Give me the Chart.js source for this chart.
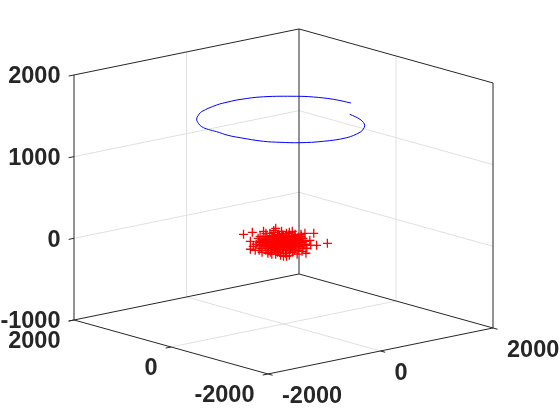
<!DOCTYPE html>
<html>
<head>
<meta charset="utf-8">
<style>html,body{margin:0;padding:0;background:#fff}canvas{display:block}</style>
<script src="https://cdn.jsdelivr.net/npm/chart.js@4"></script>
</head>
<body>
<canvas id="c" width="560" height="420"></canvas>
<script>
const uTicks = [-2000, 0, 2000];
const vTicks = [-2000, 0, 2000];
const zTicks = [-1000, 0, 1000, 2000];
const uLabels = ['-2000', '0', '2000'];
const vLabels = ['-2000', '0', '2000'];
const zLabels = ['-1000', '0', '1000', '2000'];

const helixU = [881,848,802,720,615,479,324,-11,-384,-674,-864,-999,-1105,-1140,-1123,-1126,-1092,-1002,-860,-694,-536,-140,87,302,640,1001,1145,1265,1310];
const helixV = [-343,-500,-647,-814,-961,-1090,-1202,-1316,-1266,-1122,-930,-742,-385,-177,75,241,420,594,792,947,1064,1215,1245,1247,1159,888,714,441,128];
const helixZ = [1500,1500,1500,1500,1500,1500,1500,1500,1500,1500,1500,1500,1500,1500,1500,1500,1500,1500,1500,1500,1500,1500,1500,1500,1500,1500,1500,1500,1500];

const crossU = [
-410,-320,-205,-100,-80,-340,-260,-340,-290,-310,310,220,340,450,270,230,240,170,0,-250,-220,-160,-80,60,140,190,-180,-50,60,120,180,280,210,-280,-240,
-170,-120,-90,-40,-10,30,80,110,150,
-190,-150,-110,-70,-30,10,50,90,130,
-200,-160,-120,-80,-40,0,40,80,120,160,
-180,-140,-100,-60,-20,20,60,100,140,190,
-210,-170,-130,-90,-50,-10,30,70,110,150,
-190,-150,-110,-70,-30,10,50,90,130,170,
-160,-120,-80,-40,0,40,80,120,
-130,-90,-50,-10,30,70,110,
-240,-220,-250,-240,-230,-180,200,220,230,200,180,-140,-100,-20,30,90,-130,-60,20,90,150,-30,30,-120,110,-60,0,50,-80,0,80,-120,-40,40,120,-80,0,80,-20,30];
const crossV = [
349,272,174,85,68,289,221,289,247,264,-264,-187,-289,-383,-230,-196,-204,-145,0,212,187,136,68,-51,-119,-162,153,42,-51,-102,-153,-238,-179,238,204,
145,102,77,34,9,-26,-68,-94,-128,
162,128,94,60,26,-9,-43,-77,-111,
170,136,102,68,34,0,-34,-68,-102,-136,
153,119,85,51,17,-17,-51,-85,-119,-162,
179,145,111,77,43,9,-26,-60,-94,-128,
162,128,94,60,26,-9,-43,-77,-111,-145,
136,102,68,34,0,-34,-68,-102,
111,77,43,9,-26,-60,-94,
204,187,212,204,196,153,-170,-187,-196,-170,-153,119,85,17,-26,-77,111,51,-17,-77,-128,26,-26,102,-94,51,0,-43,68,0,-68,102,34,-34,-102,68,0,-68,17,-26];
const crossZ = [
98,122,134,146,171,12,49,-85,-98,-49,110,110,-37,-12,24,-134,-73,24,-171,-98,-122,-134,-146,-159,-146,-110,110,98,122,98,73,-37,-37,-24,12,
68,80,62,75,90,70,58,82,66,
49,38,55,44,60,40,52,35,47,
24,30,15,28,20,33,18,26,12,30,
0,8,-10,5,-6,12,-4,-12,6,-2,
-24,-18,-30,-15,-28,-20,-34,-16,-26,-22,
-49,-42,-56,-46,-38,-52,-44,-58,-40,-50,
-73,-66,-80,-70,-84,-62,-76,-68,
-98,-90,-106,-94,-102,-88,-96,
73,37,0,-37,-73,-98,49,12,-24,-73,98,110,122,134,110,134,-122,-122,-134,-122,-98,-159,-171,-146,73,85,85,85,37,37,37,-12,-12,-12,-12,-61,-61,-61,61,12];

const uEdge = [-2000, 2000];
const vEdge = [-2000, 2000];
const zEdge = [-1000, 2000];

function project(u, v, z) {
  return {
    x: 283.5 + u / 2000 * 112.5 - v / 2000 * 97,
    y: 242.3 - u / 2000 * 23 - v / 2000 * 27 - z * 0.08167
  };
}
function segments(list) {
  const out = [];
  list.forEach(s => {
    out.push(project(s[0], s[1], s[2]), project(s[3], s[4], s[5]), {x: NaN, y: NaN});
  });
  return out;
}
const [u0, u1] = uEdge, [v0, v1] = vEdge, [z0, z1] = zEdge;
const tickLen = 95;

const gridLines = [];
zTicks.slice(1, 3).forEach(z => {
  gridLines.push([u0, v1, z, u1, v1, z], [u1, v1, z, u1, v0, z]);
});
gridLines.push([0, v1, z0, 0, v1, z1], [u1, 0, z0, u1, 0, z1]);
gridLines.push([0, v1, z0, 0, v0, z0], [u1, 0, z0, u0, 0, z0]);

const boxLines = [
  [u0, v1, z0, u0, v1, z1], [u1, v1, z0, u1, v1, z1], [u1, v0, z0, u1, v0, z1],
  [u0, v1, z1, u1, v1, z1], [u1, v1, z1, u1, v0, z1],
  [u0, v1, z0, u1, v1, z0], [u1, v1, z0, u1, v0, z0],
  [u0, v1, z0, u0, v0, z0], [u0, v0, z0, u1, v0, z0]
];
zTicks.forEach(z => boxLines.push([u0, v1, z, u0 - tickLen, v1, z]));
vTicks.forEach(v => boxLines.push([u0, v, z0, u0 - tickLen, v, z0]));
uTicks.forEach(u => boxLines.push([u, v0, z0, u, v0 - tickLen, z0]));

const tickText = {
  id: 'tickText',
  afterDraw(chart) {
    const ctx = chart.ctx, sx = chart.scales.x, sy = chart.scales.y;
    ctx.save();
    ctx.font = 'bold 23.5px "Liberation Sans", Arial, sans-serif';
    ctx.fillStyle = '#262626';
    ctx.textBaseline = 'middle';
    const put = (p, t, dx, dy, align) => {
      ctx.textAlign = align;
      ctx.fillText(t, sx.getPixelForValue(p.x) + dx, sy.getPixelForValue(p.y) + dy);
    };
    zTicks.forEach((z, i) => put(project(u0, v1, z), zLabels[i], -13.5, 2, 'right'));
    vTicks.forEach((v, i) => put(project(u0, v, z0), vLabels[i], -13.5, 22, 'right'));
    uTicks.forEach((u, i) => put(project(u, v0, z0), uLabels[i], 14, 23, 'left'));
    ctx.restore();
  }
};

new Chart(document.getElementById('c'), {
  type: 'scatter',
  data: {
    datasets: [
      {
        label: 'cloud',
        data: crossU.map((u, i) => project(u, crossV[i], crossZ[i])),
        pointStyle: 'cross', pointRadius: 4.5, pointBorderColor: '#ff0000',
        pointBorderWidth: 1.3, pointBackgroundColor: '#ff0000', showLine: false, order: 1
      },
      {
        label: 'track',
        data: helixU.map((u, i) => project(u, helixV[i], helixZ[i])),
        showLine: true, borderColor: '#0000ff', borderWidth: 1, pointRadius: 0, tension: 0.4, order: 2
      },
      {
        label: 'box',
        data: segments(boxLines),
        showLine: true, borderColor: '#262626', borderWidth: 1, pointRadius: 0, spanGaps: false, order: 3
      },
      {
        label: 'grid',
        data: segments(gridLines),
        showLine: true, borderColor: '#e0e0e0', borderWidth: 1, pointRadius: 0, spanGaps: false, order: 4
      }
    ]
  },
  options: {
    responsive: false,
    animation: false,
    layout: {padding: 0, autoPadding: false},
    plugins: {legend: {display: false}, title: {display: false}, tooltip: {enabled: false}},
    scales: {
      x: {type: 'linear', display: false, min: 0, max: 560},
      y: {type: 'linear', display: false, min: 0, max: 420, reverse: true}
    }
  },
  plugins: [tickText]
});
</script>
</body>
</html>
